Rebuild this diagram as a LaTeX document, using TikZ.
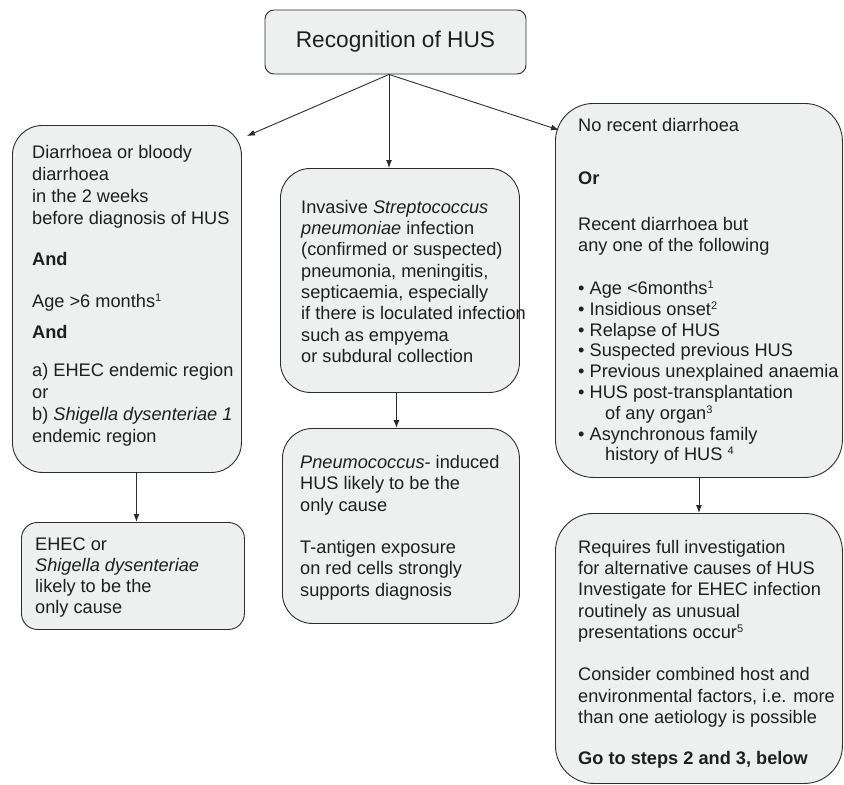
\documentclass[tikz,border=0pt]{standalone}
\usepackage{fontspec}
\setmainfont{Liberation Sans}
\usetikzlibrary{arrows.meta,positioning}
\definecolor{boxfill}{RGB}{238,240,239}
\definecolor{boxline}{RGB}{45,45,45}
\newcommand{\fn}[1]{\raisebox{0.35em}{\fontsize{11}{11}\selectfont #1}}
\tikzset{
  box/.style={draw=boxline, fill=boxfill, line width=0.9pt, inner sep=0pt, anchor=north west},
  txt/.style={align=left, inner sep=0pt, anchor=north west, text=black!88},
  arr/.style={-{Latex[length=8pt,width=6pt]}, draw=boxline, line width=0.9pt},
}
\begin{document}
\begin{tikzpicture}[x=1pt, y=-1pt]
  \useasboundingbox (0,0) rectangle (844,785);

  % boxes
  \node[box, rounded corners=9pt, minimum width=261pt, minimum height=64pt, anchor=center,
        font=\fontsize{22.7}{26}\selectfont, text=black!88] (hus) at (395.5,42) {Recognition of HUS};
  \node[box, rounded corners=30pt, minimum width=229pt, minimum height=347pt] (diar) at (12,125) {};
  \node[box, rounded corners=30pt, minimum width=239pt, minimum height=224pt] (pneu) at (280,168) {};
  \node[box, rounded corners=38pt, minimum width=287pt, minimum height=374pt] (nodiar) at (555,103) {};
  \node[box, rounded corners=16pt, minimum width=223pt, minimum height=107pt] (ehec) at (21,522) {};
  \node[box, rounded corners=30pt, minimum width=237pt, minimum height=195pt] (pnhus) at (282,428) {};
  \node[box, rounded corners=38pt, minimum width=287pt, minimum height=270pt] (invest) at (555,513) {};

  % texts
  \node[txt, font=\fontsize{18.2}{22}\selectfont] (diartxt) at (32,145) {%
    Diarrhoea or bloody\\
    diarrhoea\\
    in the 2 weeks\\
    before diagnosis of HUS\\[19pt]
    \textbf{And}\\[20pt]
    Age >6 months\fn{1}\\[9pt]
    \textbf{And}\\[16pt]
    a) EHEC endemic region\\
    or\\
    b) \textit{Shigella dysenteriae 1}\\
    endemic region};
  \node[txt, font=\fontsize{18.2}{21.3}\selectfont] (pneutxt) at (301,200) {%
    Invasive \textit{Streptococcus}\\
    \textit{pneumoniae} infection\\
    (confirmed or suspected)\\
    pneumonia, meningitis,\\
    septicaemia, especially\\
    if there is loculated infection\\
    such as empyema\\
    or subdural collection};
  \node[txt, font=\fontsize{18.2}{20.8}\selectfont] (nodiartxt) at (578,118) {%
    No recent diarrhoea\\[32pt]
    \textbf{Or}\\[26pt]
    Recent diarrhoea but\\
    any one of the following\\[22pt]
    \textbullet{} Age <6months\fn{1}\\
    \textbullet{} Insidious onset\fn{2}\\
    \textbullet{} Relapse of HUS\\
    \textbullet{} Suspected previous HUS\\
    \textbullet{} Previous unexplained anaemia\\
    \textbullet{} HUS post-transplantation\\
    \hspace*{27pt}of any organ\fn{3}\\
    \textbullet{} Asynchronous family\\
    \hspace*{27pt}history of HUS \fn{4}};
  \node[txt, font=\fontsize{18.2}{21}\selectfont] (ehectxt) at (35,538) {%
    EHEC or\\
    \textit{Shigella dysenteriae}\\
    likely to be the\\
    only cause};
  \node[txt, font=\fontsize{18.2}{21.5}\selectfont] (pnhustxt) at (300,455) {%
    \textit{Pneumococcus}- induced\\
    HUS likely to be the\\
    only cause\\[20.5pt]
    T-antigen exposure\\
    on red cells strongly\\
    supports diagnosis};
  \node[txt, font=\fontsize{18.2}{21.3}\selectfont] (investtxt) at (578,540) {%
    Requires full investigation\\
    for alternative causes of HUS\\
    Investigate for EHEC infection\\
    routinely as unusual\\
    presentations occur\fn{5}\\[21pt]
    Consider combined host and\\
    environmental factors, i.e. more\\
    than one aetiology is possible\\[20pt]
    \textbf{Go to steps 2 and 3, below}};

  % connectors
  \coordinate (fan) at ([xshift=-6.5pt]hus.south);
  \coordinate (diarin) at ([shift={(5,11)}]diar.north east);
  \coordinate (nodiarin) at ([shift={(4,27)}]nodiar.north west);
  \coordinate (ehecin) at ([xshift=3.5pt]ehec.north);
  \coordinate (pnhusin) at ([xshift=-4.5pt]pnhus.north);
  \draw[arr] (fan) -- (diarin);
  \draw[arr] (fan) -- (fan |- pneu.north);
  \draw[arr] (fan) -- (nodiarin);
  \draw[arr] (diar.south -| ehecin) -- (ehecin);
  \draw[arr] (pneu.south -| pnhusin) -- (pnhusin);
  \draw[arr] (nodiar.south) -- (invest.north);
\end{tikzpicture}
\end{document}
